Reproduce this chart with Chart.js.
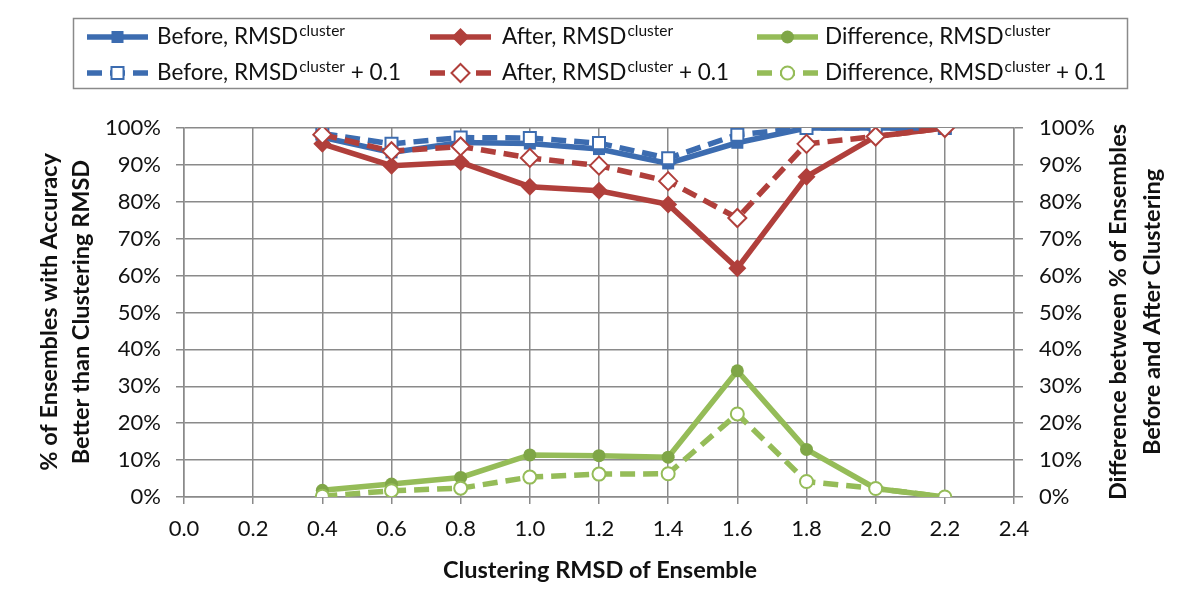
<!DOCTYPE html>
<html>
<head>
<meta charset="utf-8">
<script src="https://cdn.jsdelivr.net/npm/chart.js@4"></script>
<style>
  html, body { margin: 0; padding: 0; background: #fff; }
  #wrap { position: relative; width: 1200px; height: 590px; }
</style>
</head>
<body>
<div id="wrap"><canvas id="chart" width="1200" height="590"></canvas></div>
<script>
// Clustering RMSD of ensemble (x values)
const rmsd = [0.4, 0.6, 0.8, 1.0, 1.2, 1.4, 1.6, 1.8, 2.0, 2.2];

// % of ensembles with accuracy better than clustering RMSD
const beforeVals       = [97.5, 93.4, 96.1, 95.8, 94.3, 90.4, 96.0, 100, 100, 100];
const afterVals        = [95.7, 89.8, 90.7, 84.1, 83.0, 79.3, 62.0, 86.8, 97.7, 100];
const diffVals         = [1.8, 3.5, 5.3, 11.4, 11.2, 10.8, 34.2, 12.9, 2.3, 0];
const beforePlusVals   = [98.5, 95.7, 97.4, 97.3, 95.9, 91.8, 98.2, 100, 100, 100];
const afterPlusVals    = [98.2, 93.7, 95.0, 91.9, 89.8, 85.6, 75.6, 95.7, 97.7, 100];
const diffPlusVals     = [0.2, 1.7, 2.4, 5.4, 6.2, 6.3, 22.5, 4.2, 2.3, 0];

// tick labels
const xTicks = [0.0, 0.2, 0.4, 0.6, 0.8, 1.0, 1.2, 1.4, 1.6, 1.8, 2.0, 2.2, 2.4];
const yTicks = [0, 10, 20, 30, 40, 50, 60, 70, 80, 90, 100];

const legendNames = ['Before, RMSD', 'After, RMSD', 'Difference, RMSD'];
const leftTitle = ['% of Ensembles with Accuracy', 'Better than Clustering RMSD'];
const rightTitle = ['Difference between % of Ensembles', 'Before and After Clustering'];
const xTitle = 'Clustering RMSD of Ensemble';

const BLUE = '#3c6cb0';
const RED = '#b03f3b';
const GREEN = '#95bc58';
const GREEN_DARK = '#7fa647';
const GRID = '#8a8a8a';
const FONT = 'Lato';

function series(vals) {
    return rmsd.map((x, i) => ({ x: x, y: vals[i] }));
}

function solid(label, vals, color, style, radius, axis, fill, order) {
    return {
        label: label, data: series(vals), yAxisID: axis, order: order,
        borderColor: color, borderWidth: 5.5, borderDash: [],
        pointStyle: style, pointRadius: radius,
        pointBackgroundColor: fill || color, pointBorderColor: fill || color, pointBorderWidth: 0
    };
}

function dashed(label, vals, color, style, radius, axis, order) {
    return {
        label: label, data: series(vals), yAxisID: axis, order: order,
        borderColor: color, borderWidth: 5.5, borderDash: [15, 8],
        pointStyle: style, pointRadius: radius,
        pointBackgroundColor: '#fff', pointBorderColor: color, pointBorderWidth: 2
    };
}

const datasets = [
    solid('Before', beforeVals, BLUE, 'rect', 8.5, 'y', null, 6),
    solid('After', afterVals, RED, 'rectRot', 9, 'y', null, 5),
    solid('Difference', diffVals, GREEN, 'circle', 6.5, 'y1', GREEN_DARK, 4),
    dashed('Before +0.1', beforePlusVals, BLUE, 'rect', 8.5, 'y', 3),
    dashed('After +0.1', afterPlusVals, RED, 'rectRot', 9, 'y', 2),
    dashed('Difference +0.1', diffPlusVals, GREEN, 'circle', 6.5, 'y1', 1)
];

function marker(ctx, style, r, x, y) {
    ctx.beginPath();
    if (style === 'rect') {
        const s = r * Math.SQRT1_2;
        ctx.rect(x - s, y - s, 2 * s, 2 * s);
    } else if (style === 'rectRot') {
        ctx.moveTo(x, y - r); ctx.lineTo(x + r, y); ctx.lineTo(x, y + r); ctx.lineTo(x - r, y); ctx.closePath();
    } else {
        ctx.arc(x, y, r, 0, Math.PI * 2);
    }
}

// boxed legend with superscripts, axis titles (right one reads bottom-to-top)
const decorPlugin = {
    id: 'decor',
    afterDraw(chart) {
        const ctx = chart.ctx;
        ctx.save();
        ctx.strokeStyle = GRID;
        ctx.lineWidth = 1.5;
        ctx.strokeRect(73.5, 18.5, 1054, 70);

        const iconX = [87, 430, 757];
        const textX = [157, 502, 825];
        const rows = [37, 73];
        chart.data.datasets.forEach((ds, i) => {
            const col = i % 3, row = Math.floor(i / 3);
            const x0 = iconX[col], y = rows[row];
            ctx.save();
            ctx.strokeStyle = ds.borderColor;
            ctx.lineWidth = ds.borderWidth;
            ctx.setLineDash(ds.borderDash);
            ctx.beginPath(); ctx.moveTo(x0, y); ctx.lineTo(x0 + 61, y); ctx.stroke();
            ctx.restore();
            marker(ctx, ds.pointStyle, ds.pointRadius, x0 + 30.5, y);
            ctx.fillStyle = ds.pointBackgroundColor;
            ctx.fill();
            if (ds.pointBorderWidth) {
                ctx.strokeStyle = ds.pointBorderColor;
                ctx.lineWidth = ds.pointBorderWidth;
                ctx.stroke();
            }
            let tx = textX[col];
            ctx.fillStyle = '#111';
            ctx.textBaseline = 'middle';
            ctx.textAlign = 'left';
            ctx.font = '22.5px ' + FONT;
            ctx.fillText(legendNames[col], tx, y);
            tx += ctx.measureText(legendNames[col]).width + 1;
            ctx.font = '15.5px ' + FONT;
            ctx.fillText('cluster', tx, y - 6);
            tx += ctx.measureText('cluster').width;
            if (row === 1) {
                ctx.font = '22.5px ' + FONT;
                ctx.fillText(' + 0.1', tx, y);
            }
        });

        ctx.fillStyle = '#111';
        ctx.font = 'bold 23.5px ' + FONT;
        ctx.textAlign = 'center';
        ctx.textBaseline = 'middle';
        ctx.fillText(xTitle, 600, 570);
        const cy = 312;
        [[leftTitle, [49, 81]], [rightTitle, [1118, 1152]]].forEach(([lines, xs]) => {
            lines.forEach((t, k) => {
                ctx.save();
                ctx.translate(xs[k], cy);
                ctx.rotate(-Math.PI / 2);
                ctx.fillText(t, 0, 0);
                ctx.restore();
            });
        });
        ctx.restore();
    }
};

const tickFont = { family: FONT, size: 22 };

new Chart(document.getElementById('chart'), {
    type: 'line',
    data: { datasets: datasets },
    options: {
        responsive: false,
        animation: false,
        layout: { padding: { top: 128, left: 0, right: 0, bottom: 0 } },
        elements: { line: { tension: 0 } },
        plugins: { legend: { display: false }, tooltip: { enabled: false } },
        scales: {
            x: {
                type: 'linear', min: 0, max: 2.4,
                afterBuildTicks: s => { s.ticks = xTicks.map(v => ({ value: v })); },
                afterFit: s => { s.height = 93; },
                grid: { color: GRID, lineWidth: 1.5, tickLength: 7 },
                border: { color: GRID, width: 1.5 },
                ticks: { font: tickFont, color: '#111', padding: 12, maxRotation: 0, callback: v => v.toFixed(1) }
            },
            y: {
                position: 'left', min: 0, max: 100,
                afterBuildTicks: s => { s.ticks = yTicks.map(v => ({ value: v })); },
                afterFit: s => { s.width = 184; },
                grid: { color: GRID, lineWidth: 1.5, tickLength: 8 },
                border: { color: GRID, width: 1.5 },
                ticks: { font: tickFont, color: '#111', padding: 15, callback: v => v + '%' }
            },
            y1: {
                position: 'right', min: 0, max: 100,
                afterBuildTicks: s => { s.ticks = yTicks.map(v => ({ value: v })); },
                afterFit: s => { s.width = 186; },
                grid: { color: GRID, lineWidth: 1.5, tickLength: 9, drawOnChartArea: false },
                border: { color: GRID, width: 1.5 },
                ticks: { font: tickFont, color: '#111', padding: 16, callback: v => v + '%' }
            }
        }
    },
    plugins: [decorPlugin]
});
</script>
</body>
</html>
